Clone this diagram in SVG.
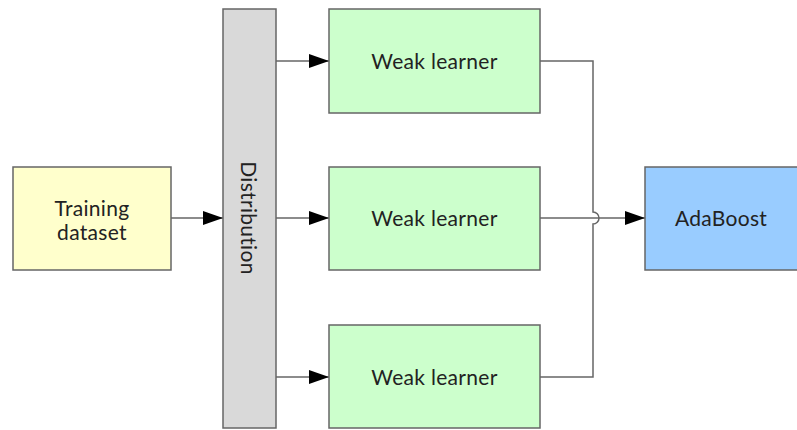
<svg xmlns="http://www.w3.org/2000/svg" width="797" height="430" viewBox="0 0 797 430">
  <defs>
    <marker id="arrow" viewBox="0 0 20 14" refX="20" refY="7" markerWidth="20" markerHeight="14" markerUnits="userSpaceOnUse" orient="auto">
      <path d="M0,0 L20,7 L0,14 Z" fill="#000"/>
    </marker>
  </defs>
  <style>
    .box { stroke: #666; stroke-width: 1.5; }
    .label { font-family: Lato, "Liberation Sans", sans-serif; font-size: 21px; letter-spacing: 0.3px; fill: #222; text-anchor: middle; dominant-baseline: central; }
    .wire { fill: none; stroke: #666; stroke-width: 1.5; }
  </style>
  <rect width="797" height="430" fill="#fff"/>

  <g id="connectors">
    <line class="wire" x1="171" y1="218" x2="223" y2="218" marker-end="url(#arrow)"/>
    <line class="wire" x1="276" y1="61" x2="329" y2="61" marker-end="url(#arrow)"/>
    <line class="wire" x1="276" y1="218" x2="329" y2="218" marker-end="url(#arrow)"/>
    <line class="wire" x1="276" y1="377" x2="329" y2="377" marker-end="url(#arrow)"/>
    <!-- collector line hops over the middle output -->
    <path class="wire" d="M540,61 H593 V212 A6,6 0 0 1 593,224 V377 H540"/>
    <line class="wire" x1="540" y1="218" x2="645" y2="218" marker-end="url(#arrow)"/>
  </g>

  <g id="training-dataset">
    <rect class="box" x="13" y="167" width="158" height="103" fill="#ffffcc"/>
    <text class="label" x="92" y="207">Training</text>
    <text class="label" x="92" y="231">dataset</text>
  </g>

  <g id="distribution">
    <rect class="box" x="223" y="9" width="53" height="419" fill="#d9d9d9"/>
    <text class="label" transform="translate(249,218) rotate(90)" x="0" y="0">Distribution</text>
  </g>

  <g id="weak-learner-1">
    <rect class="box" x="329" y="9" width="211" height="104" fill="#ccffcc"/>
    <text class="label" x="434.5" y="60">Weak learner</text>
  </g>

  <g id="weak-learner-2">
    <rect class="box" x="329" y="167" width="211" height="103" fill="#ccffcc"/>
    <text class="label" x="434.5" y="217">Weak learner</text>
  </g>

  <g id="weak-learner-3">
    <rect class="box" x="329" y="325" width="211" height="103" fill="#ccffcc"/>
    <text class="label" x="434.5" y="376">Weak learner</text>
  </g>

  <g id="adaboost">
    <rect class="box" x="645" y="167" width="160" height="103" fill="#99ccff"/>
    <text class="label" x="721" y="217">AdaBoost</text>
  </g>
</svg>
